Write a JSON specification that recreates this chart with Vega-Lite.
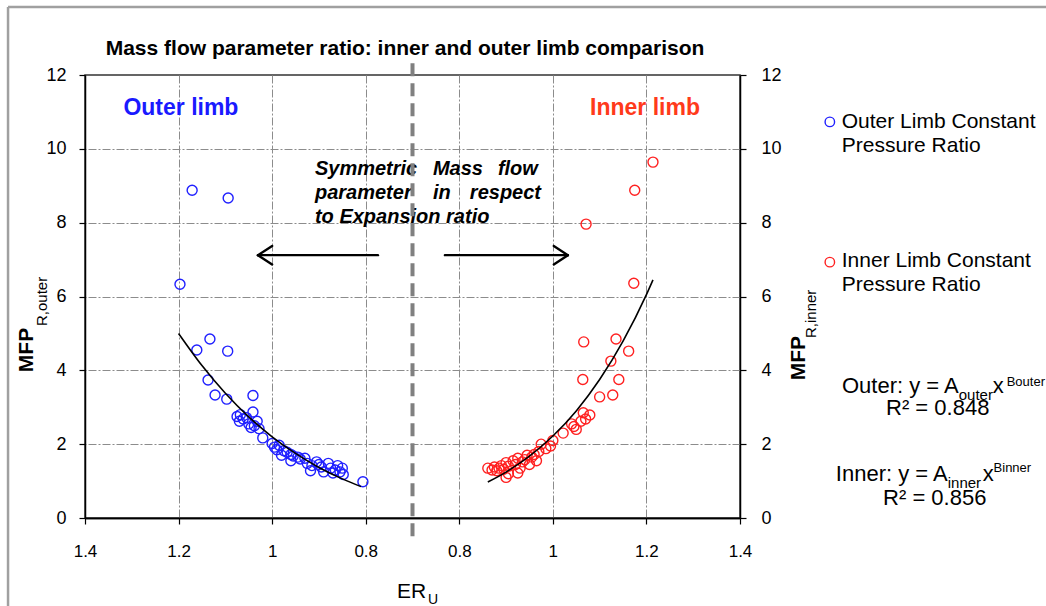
{
"$schema":"https://vega.github.io/schema/vega-lite/v6.json",
"width":655,"height":443,
"autosize":{"type":"none"},
"padding":{"left":85,"top":75,"right":306,"bottom":88},
"background":"white",
"config":{
  "font":"Liberation Sans",
  "view":{"stroke":"#333333","strokeWidth":1.5},
  "axis":{"domainColor":"#000000","domainWidth":1.5,"tickColor":"#000000","tickWidth":1.2,"tickSize":6,"labelColor":"#000000","labelFont":"Liberation Sans","labelFontSize":17,"labelFlush":false,"labelOverlap":false,"gridColor":"#8c8c8c","gridDash":[8,2,2,2],"gridWidth":1}
},
"resolve":{"scale":{"x":"independent","y":"independent","color":"independent"},"axis":{"x":"independent","y":"independent"}},
"layer":[
 {
  "encoding":{
   "x":{"field":"x","type":"quantitative","scale":{"domain":[0,1.4],"reverse":true,"nice":false,"zero":false},
        "axis":{"orient":"bottom","values":[1.4,1.2,1,0.8],"labelExpr":"datum.value + ''","title":null,"labelPadding":19,"grid":true,
                "gridOpacity":{"condition":{"test":"datum.value == 1.4","value":0},"value":1}}},
   "y":{"field":"y","type":"quantitative","scale":{"domain":[0,12],"nice":false},
        "axis":{"orient":"left","values":[0,2,4,6,8,10,12],"title":null,"labelPadding":13,"labelFontSize":18,"grid":true,
                "gridOpacity":{"condition":{"test":"datum.value == 0 || datum.value == 12","value":0},"value":1}}}
  },
  "layer":[
   {"data":{"values":[
     {"x":1.197,"y":6.33},{"x":1.171,"y":8.88},{"x":1.094,"y":8.67},{"x":1.161,"y":4.55},{"x":1.133,"y":4.85},
     {"x":1.095,"y":4.52},{"x":1.137,"y":3.74},{"x":1.122,"y":3.33},{"x":1.097,"y":3.22},{"x":1.041,"y":3.32},
     {"x":1.041,"y":2.87},{"x":1.075,"y":2.75},{"x":1.068,"y":2.80},{"x":1.062,"y":2.68},{"x":1.070,"y":2.62},
     {"x":1.055,"y":2.72},{"x":1.050,"y":2.55},{"x":1.038,"y":2.50},{"x":1.045,"y":2.45},{"x":1.032,"y":2.62},
     {"x":1.028,"y":2.42},{"x":1.020,"y":2.17},{"x":1.000,"y":2.02},{"x":0.995,"y":1.92},{"x":0.990,"y":1.85},
     {"x":0.985,"y":1.97},{"x":0.975,"y":1.82},{"x":0.968,"y":1.78},{"x":0.960,"y":1.72},{"x":0.955,"y":1.68},
     {"x":0.945,"y":1.65},{"x":0.940,"y":1.60},{"x":0.930,"y":1.62},{"x":0.925,"y":1.48},{"x":0.915,"y":1.42},
     {"x":0.918,"y":1.28},{"x":0.905,"y":1.52},{"x":0.900,"y":1.45},{"x":0.895,"y":1.38},{"x":0.890,"y":1.25},
     {"x":0.880,"y":1.48},{"x":0.875,"y":1.35},{"x":0.870,"y":1.22},{"x":0.865,"y":1.30},{"x":0.860,"y":1.42},
     {"x":0.855,"y":1.25},{"x":0.850,"y":1.35},{"x":0.848,"y":1.18},{"x":0.806,"y":0.98},{"x":0.960,"y":1.55},
     {"x":0.980,"y":1.70}]},
    "mark":{"type":"point","filled":false,"shape":"circle","size":100,"strokeWidth":1.4,"color":"#2020ff","opacity":1}},
   {"data":{"values":[
     {"x":1.2,"y":5.0},{"x":1.15,"y":4.13},{"x":1.1,"y":3.38},{"x":1.05,"y":2.74},{"x":1.0,"y":2.2},
     {"x":0.95,"y":1.75},{"x":0.9,"y":1.37},{"x":0.85,"y":1.06},{"x":0.81,"y":0.85}]},
    "mark":{"type":"line","color":"#000000","strokeWidth":1.6,"interpolate":"monotone"}},
   {"data":{"values":[{"x":0.716,"y":12.54,"text":"Mass flow parameter ratio: inner and outer limb comparison"}]},
    "mark":{"type":"text","font":"Liberation Sans","fontSize":21,"fontWeight":"bold","color":"#000000","align":"center","baseline":"alphabetic"},
    "encoding":{"text":{"field":"text"}}},
   {"data":{"values":[{"x":1.195,"y":11.1,"text":"Outer limb"}]},
    "mark":{"type":"text","font":"Liberation Sans","fontSize":23,"fontWeight":"bold","color":"#1a1aff","align":"center","baseline":"middle"},
    "encoding":{"text":{"field":"text"}}},
   {"data":{"values":[
     {"x":0.9085,"y":9.45,"text":"Symmetric"},{"x":0.6564,"y":9.45,"text":"Mass"},{"x":0.5175,"y":9.45,"text":"flow"},
     {"x":0.9085,"y":8.8,"text":"parameter"},{"x":0.6564,"y":8.8,"text":"in"},{"x":0.5774,"y":8.8,"text":"respect"},
     {"x":0.9085,"y":8.15,"text":"to Expansion ratio"}]},
    "mark":{"type":"text","font":"Liberation Sans","fontSize":20,"fontWeight":"bold","fontStyle":"italic","color":"#000000","align":"left","baseline":"middle"},
    "encoding":{"text":{"field":"text"}}},
   {"data":{"values":[
     {"x":1.0303,"y":7.12,"x2":0.7739,"y2":7.12},{"x":1.0303,"y":7.12,"x2":1.0,"y2":7.37},{"x":1.0303,"y":7.12,"x2":1.0,"y2":6.87},
     {"x":0.6308,"y":7.12,"x2":0.3679,"y2":7.12},{"x":0.3679,"y":7.12,"x2":0.398,"y2":7.37},{"x":0.3679,"y":7.12,"x2":0.398,"y2":6.87}]},
    "mark":{"type":"rule","color":"#000000","strokeWidth":2.4,"strokeCap":"round"},
    "encoding":{"x2":{"field":"x2"},"y2":{"field":"y2"}}},
   {"data":{"values":[{"x":0.7,"y":12.32,"x2":0.7,"y2":-0.65}]},
    "mark":{"type":"rule","color":"#808080","strokeWidth":4,"strokeDash":[13,7]},
    "encoding":{"x2":{"field":"x2"},"y2":{"field":"y2"}}},
   {"data":{"values":[{"x":1.5645,"y":13.84,"x2":-1.3,"y2":13.84},{"x":1.5645,"y":13.84,"x2":1.5645,"y2":-3}]},
    "mark":{"type":"rule","color":"#a0a0a0","strokeWidth":2.5},
    "encoding":{"x2":{"field":"x2"},"y2":{"field":"y2"}}},
   {"data":{"values":[{"x":-0.192,"y":10.73,"series":"Outer"},{"x":-0.192,"y":6.93,"series":"Inner"}]},
    "mark":{"type":"point","filled":false,"shape":"circle","size":90,"strokeWidth":1.4,"opacity":1},
    "encoding":{"color":{"field":"series","type":"nominal","scale":{"domain":["Outer","Inner"],"range":["#2020ff","#ff2020"]},"legend":null}}},
   {"data":{"values":[
     {"x":-0.2175,"y":10.73,"text":"Outer Limb Constant"},{"x":-0.2175,"y":10.08,"text":"Pressure Ratio"},
     {"x":-0.2175,"y":6.96,"text":"Inner Limb Constant"},{"x":-0.2175,"y":6.31,"text":"Pressure Ratio"}]},
    "mark":{"type":"text","font":"Liberation Sans","fontSize":21,"color":"#000000","align":"left","baseline":"middle"},
    "encoding":{"text":{"field":"text"}}},
   {"data":{"values":[{"x":-0.4675,"y":3.386,"text":"Outer: y = A"},{"x":-0.444,"y":1.002,"text":"Inner: y = A"}]},
    "mark":{"type":"text","font":"Liberation Sans","fontSize":22,"color":"#000000","align":"right","baseline":"alphabetic"},
    "encoding":{"text":{"field":"text"}}},
   {"data":{"values":[{"x":-0.540,"y":3.386,"text":"x"},{"x":-0.519,"y":1.002,"text":"x"}]},
    "mark":{"type":"text","font":"Liberation Sans","fontSize":22,"color":"#000000","align":"left","baseline":"alphabetic"},
    "encoding":{"text":{"field":"text"}}},
   {"data":{"values":[{"x":-0.4226,"y":2.79,"text":"R² = 0.848"},{"x":-0.4162,"y":0.352,"text":"R² = 0.856"}]},
    "mark":{"type":"text","font":"Liberation Sans","fontSize":22,"color":"#000000","align":"center","baseline":"alphabetic"},
    "encoding":{"text":{"field":"text"}}},
   {"data":{"values":[{"x":-0.4675,"y":3.196,"text":"outer"},{"x":-0.444,"y":0.8126,"text":"inner"}]},
    "mark":{"type":"text","font":"Liberation Sans","fontSize":15,"color":"#000000","align":"left","baseline":"alphabetic"},
    "encoding":{"text":{"field":"text"}}},
   {"data":{"values":[{"x":-0.570,"y":3.575,"text":"Bouter"},{"x":-0.542,"y":1.246,"text":"Binner"}]},
    "mark":{"type":"text","font":"Liberation Sans","fontSize":13,"color":"#000000","align":"left","baseline":"alphabetic"},
    "encoding":{"text":{"field":"text"}}},
   {"data":{"values":[{"x":1.511,"y":4.55,"text":"MFP"}]},
    "mark":{"type":"text","font":"Liberation Sans","fontSize":21,"fontWeight":"bold","color":"#000000","angle":270,"align":"center","baseline":"alphabetic"},
    "encoding":{"text":{"field":"text"}}},
   {"data":{"values":[{"x":1.481,"y":5.2,"text":"R,outer"}]},
    "mark":{"type":"text","font":"Liberation Sans","fontSize":15,"color":"#000000","angle":270,"align":"left","baseline":"alphabetic"},
    "encoding":{"text":{"field":"text"}}},
   {"data":{"values":[{"x":0.7333,"y":-2.18,"text":"ER"}]},
    "mark":{"type":"text","font":"Liberation Sans","fontSize":21,"color":"#000000","align":"left","baseline":"alphabetic"},
    "encoding":{"text":{"field":"text"}}},
   {"data":{"values":[{"x":0.667,"y":-2.33,"text":"U"}]},
    "mark":{"type":"text","font":"Liberation Sans","fontSize":14,"color":"#000000","align":"left","baseline":"alphabetic"},
    "encoding":{"text":{"field":"text"}}}
  ]
 },
 {
  "encoding":{
   "x":{"field":"x","type":"quantitative","scale":{"domain":[0,1.4],"nice":false,"zero":false},
        "axis":{"orient":"bottom","values":[0.8,1,1.2,1.4],"labelExpr":"datum.value + ''","title":null,"labelPadding":19,"grid":true,
                "gridOpacity":{"condition":{"test":"datum.value == 1.4","value":0},"value":1}}},
   "y":{"field":"y","type":"quantitative","scale":{"domain":[0,12],"nice":false},
        "axis":{"orient":"right","values":[0,2,4,6,8,10,12],"title":null,"labelPadding":15,"labelFontSize":18,"grid":false}}
  },
  "layer":[
   {"data":{"values":[
     {"x":1.214,"y":9.64},{"x":1.175,"y":8.88},{"x":1.071,"y":7.96},{"x":1.173,"y":6.36},{"x":1.066,"y":4.77},
     {"x":1.135,"y":4.85},{"x":1.162,"y":4.52},{"x":1.124,"y":4.25},{"x":1.064,"y":3.75},{"x":1.141,"y":3.75},
     {"x":1.100,"y":3.28},{"x":1.128,"y":3.33},{"x":1.079,"y":2.79},{"x":1.065,"y":2.85},{"x":1.060,"y":2.62},
     {"x":1.070,"y":2.68},{"x":1.045,"y":2.48},{"x":1.050,"y":2.40},{"x":1.040,"y":2.55},{"x":1.022,"y":2.30},
     {"x":1.000,"y":2.10},{"x":0.995,"y":1.95},{"x":0.985,"y":1.88},{"x":0.975,"y":2.00},{"x":0.970,"y":1.80},
     {"x":0.960,"y":1.72},{"x":0.955,"y":1.65},{"x":0.945,"y":1.70},{"x":0.940,"y":1.58},{"x":0.935,"y":1.52},
     {"x":0.925,"y":1.62},{"x":0.920,"y":1.45},{"x":0.915,"y":1.55},{"x":0.905,"y":1.40},{"x":0.900,"y":1.50},
     {"x":0.895,"y":1.32},{"x":0.890,"y":1.42},{"x":0.885,"y":1.35},{"x":0.880,"y":1.28},{"x":0.875,"y":1.38},
     {"x":0.861,"y":1.35},{"x":0.870,"y":1.30},{"x":0.925,"y":1.22},{"x":0.905,"y":1.20},{"x":0.900,"y":1.10},
     {"x":0.930,"y":1.35},{"x":0.950,"y":1.45},{"x":0.965,"y":1.55}]},
    "mark":{"type":"point","filled":false,"shape":"circle","size":100,"strokeWidth":1.4,"color":"#ff2020","opacity":1}},
   {"data":{"values":[
     {"x":0.861,"y":0.975},{"x":0.9,"y":1.244},{"x":0.95,"y":1.674},{"x":1.0,"y":2.22},{"x":1.05,"y":2.9},
     {"x":1.1,"y":3.75},{"x":1.15,"y":4.79},{"x":1.2,"y":6.05},{"x":1.214,"y":6.45}]},
    "mark":{"type":"line","color":"#000000","strokeWidth":1.6,"interpolate":"monotone"}},
   {"data":{"values":[{"x":1.197,"y":11.1,"text":"Inner limb"}]},
    "mark":{"type":"text","font":"Liberation Sans","fontSize":23,"fontWeight":"bold","color":"#ff3a1a","align":"center","baseline":"middle"},
    "encoding":{"text":{"field":"text"}}},
   {"data":{"values":[{"x":1.5385,"y":4.33,"text":"MFP"}]},
    "mark":{"type":"text","font":"Liberation Sans","fontSize":21,"fontWeight":"bold","color":"#000000","angle":270,"align":"center","baseline":"alphabetic"},
    "encoding":{"text":{"field":"text"}}},
   {"data":{"values":[{"x":1.562,"y":4.875,"text":"R,inner"}]},
    "mark":{"type":"text","font":"Liberation Sans","fontSize":15,"color":"#000000","angle":270,"align":"left","baseline":"alphabetic"},
    "encoding":{"text":{"field":"text"}}}
  ]
 }
]
}
